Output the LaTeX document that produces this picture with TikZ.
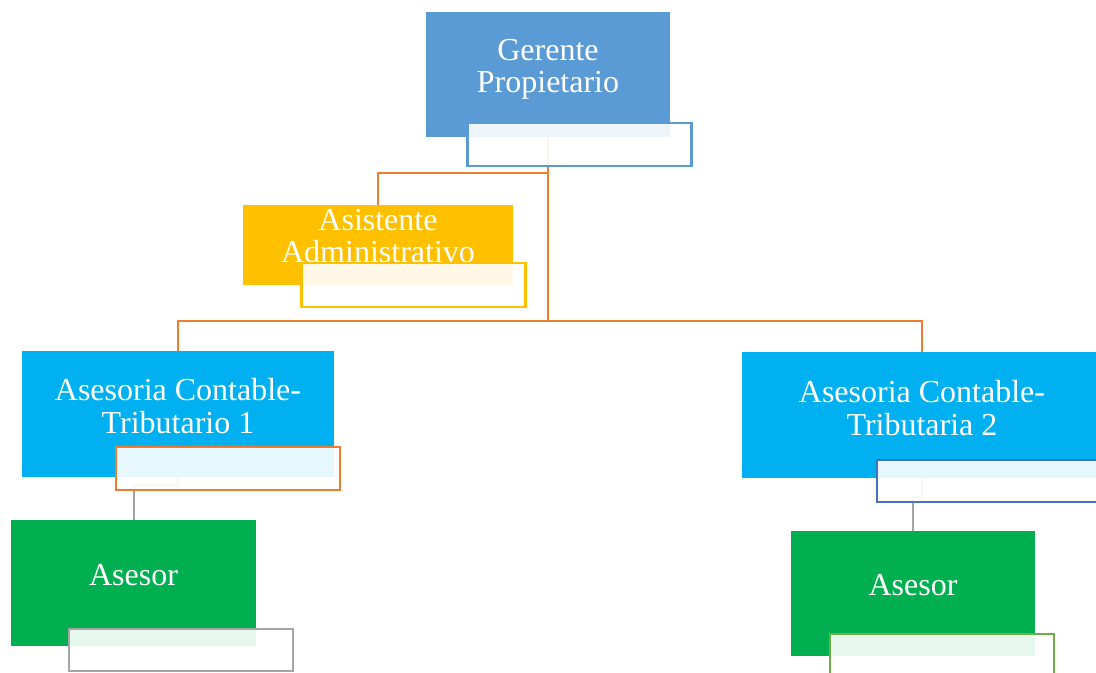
\documentclass[tikz,border=0pt]{standalone}
\usepackage{fontspec}
\setmainfont{Liberation Serif}
\usetikzlibrary{ calc, positioning }
\definecolor{gerblue}{HTML}{5B9BD5}
\definecolor{asisyellow}{HTML}{FFC000}
\definecolor{asecyan}{HTML}{00B0F0}
\definecolor{asorgreen}{HTML}{00B050}
\definecolor{linkorange}{HTML}{ED7D31}
\definecolor{linkgrey}{HTML}{A5A5A5}
\definecolor{tagblue}{HTML}{4472C4}
\definecolor{taggreen}{HTML}{70AD47}
\tikzset{
unit/.style={rectangle, inner sep=0pt, draw=none}, % the coloured boxes
unit text/.style={text=white, align=center, inner sep=0pt,
  font=\fontsize{16}{16.3}\selectfont}, % the white names
tag/.style={rectangle, inner sep=0pt, fill=white, fill opacity=0.9,
  line width=1.2pt, minimum width=112pt, minimum height=21.5pt}, % empty boxes below
orange link/.style={draw=linkorange, line width=1pt},
grey link/.style={draw=linkgrey, line width=1pt},
}

\begin{document}
\begin{tikzpicture}[x=0.5pt, y=-0.5pt]%one unit is one pixel of the sheet
  \useasboundingbox (0,0) rectangle (1096,673);
  \clip (0,0) rectangle (1096,673);

  \node[unit, fill=gerblue, minimum width=122pt, minimum height=62.5pt] (gerente) at (548,74.5) {};
  \node[unit, fill=asisyellow, minimum width=135pt, minimum height=40pt] (asistente) at (378,245) {};
  \node[unit, fill=asecyan, minimum width=156pt, minimum height=63pt] (ac1) at (178,414) {};
  \node[unit, fill=asecyan, minimum width=180pt, minimum height=63pt] (ac2) at (922,415) {};
  \node[unit, fill=asorgreen, minimum width=122.5pt, minimum height=63pt] (asesor1) at (133.5,583) {};
  \node[unit, fill=asorgreen, minimum width=122pt, minimum height=62.5pt] (asesor2) at (913,593.5) {};

  \node[unit text] (gerente-t) at ($(gerente)+(0,-5)$) {Gerente\\Propietario};
  \node[unit text] (asistente-t) at ($(asistente)+(0,-9)$) {Asistente\\Administrativo};
  \node[unit text] (ac1-t) at ($(ac1)+(0,-8)$) {Asesoria Contable-\\Tributario 1};
  \node[unit text] (ac2-t) at ($(ac2)+(0,-7)$) {Asesoria Contable-\\Tributaria 2};
  \node[unit text] (asesor1-t) at ($(asesor1)+(0,-8)$) {Asesor};
  \node[unit text] (asesor2-t) at ($(asesor2)+(0,-8)$) {Asesor};

  \draw[orange link] (gerente.south) -- ++(0,36) coordinate (fork) -| (asistente.north);
  \coordinate (bus) at (gerente.south |- 0,321);
  \draw[orange link] (fork) -- (bus) -| (ac1.north);
  \draw[orange link] (bus) -| (ac2.north);
  \draw[grey link] (ac1.south) -- ++(0,8) -| (asesor1.north);
  \draw[grey link] (ac2.south) -- ++(0,19) -| (asesor2.north);

  \node[tag, draw=gerblue] (gerente-tag) at (579.5,144.5) {};
  \node[tag, draw=asisyellow, minimum height=22pt] (asistente-tag) at (413.5,285) {};
  \node[tag, draw=linkorange] (ac1-tag) at (228,468.5) {};
  \node[tag, draw=tagblue, minimum height=21pt] (ac2-tag) at (989,481) {};
  \node[tag, draw=linkgrey, minimum height=21pt] (asesor1-tag) at (181,650) {};
  \node[tag, draw=taggreen, minimum height=21pt] (asesor2-tag) at (942,655) {};
\end{tikzpicture}
\end{document}
